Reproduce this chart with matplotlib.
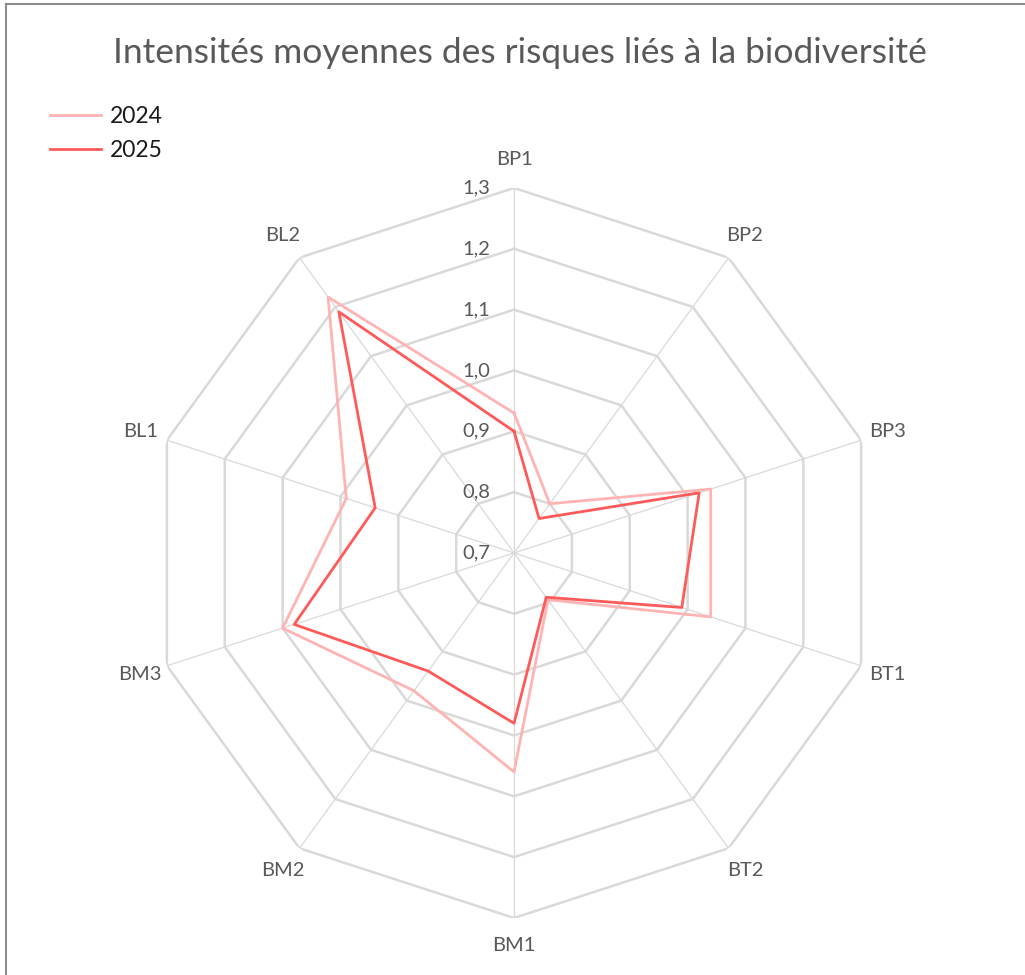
import numpy as np
import matplotlib
matplotlib.use("Agg")
import matplotlib.pyplot as plt
import matplotlib.transforms as mtransforms
from matplotlib.lines import Line2D

plt.rcParams['font.family'] = ['Lato', 'DejaVu Sans']

# data
categories = ['BP1', 'BP2', 'BP3', 'BT1', 'BT2', 'BM1', 'BM2', 'BM3', 'BL1', 'BL2']
values_2024 = [0.93, 0.80, 1.04, 1.04, 0.795, 1.06, 0.98, 1.10, 0.99, 1.22]
values_2025 = [0.90, 0.77, 1.02, 0.99, 0.79, 0.98, 0.94, 1.08, 0.94, 1.19]
ring_values = [0.8, 0.9, 1.0, 1.1, 1.2, 1.3]
tick_values = [0.7, 0.8, 0.9, 1.0, 1.1, 1.2, 1.3]
tick_labels = ['0,7', '0,8', '0,9', '1,0', '1,1', '1,2', '1,3']
r_min, r_max = 0.7, 1.3

grey_text = '#595959'
grid_col = '#d9d9d9'
col_2024 = '#ffb3b3'
col_2025 = '#ff5a5a'

fig = plt.figure(figsize=(10.25, 9.75), dpi=100)
ax = fig.add_axes([0.1454, 0.0585, 0.7122, 0.7487], projection='polar')
ax.set_theta_zero_location('N')
ax.set_theta_direction(-1)
ax.set_ylim(r_min, r_max)
ax.grid(False)
ax.spines['polar'].set_visible(False)
ax.set_xticks([])
ax.set_yticks([])

n = len(categories)
angles = np.linspace(0, 2 * np.pi, n, endpoint=False)
closed = np.append(angles, angles[0])

# spokes
for a in angles:
    ax.plot([a, a], [r_min, r_max], color=grid_col, lw=0.9, zorder=1)

# polygon rings
for rv in ring_values:
    ax.plot(closed, [rv] * (n + 1), color=grid_col, lw=1.8, zorder=1)

# series
ax.plot(closed, values_2024 + values_2024[:1], color=col_2024, lw=2.0, zorder=3)
ax.plot(closed, values_2025 + values_2025[:1], color=col_2025, lw=2.0, zorder=4)

# radial tick labels to the left of the top spoke
off = mtransforms.offset_copy(ax.transData, fig=fig, x=-24, y=0, units='dots')
for tv, tl in zip(tick_values, tick_labels):
    ax.text(0, tv, tl, transform=off, ha='right', va='center',
            fontsize=14.5, color=grey_text, zorder=5)

# category labels
for a, c in zip(angles, categories):
    ax.text(a, 1.346, c, ha='center', va='center', fontsize=14.5, color=grey_text)

# title
fig.text(0.507, 0.946, 'Intensités moyennes des risques liés à la biodiversité',
         ha='center', va='center', fontsize=25.5, color=grey_text)

# legend
handles = [Line2D([], [], color=col_2024, lw=2.0),
           Line2D([], [], color=col_2025, lw=2.0)]
fig.legend(handles, ['2024', '2025'], loc='upper left',
           bbox_to_anchor=(0.049, 0.891), frameon=False, fontsize=16.5,
           handlelength=2.2, handletextpad=0.4, labelspacing=0.55,
           borderpad=0, borderaxespad=0, labelcolor='#1a1a1a')

# frame lines at top and left
fig.add_artist(Line2D([0.0063, 0.0063], [0, 0.9955], color='#8c8c8c', lw=1.5,
                      transform=fig.transFigure))
fig.add_artist(Line2D([0.0063, 1], [0.9955, 0.9955], color='#8c8c8c', lw=1.5,
                      transform=fig.transFigure))

fig.savefig('out.png', dpi=100, facecolor='white')
